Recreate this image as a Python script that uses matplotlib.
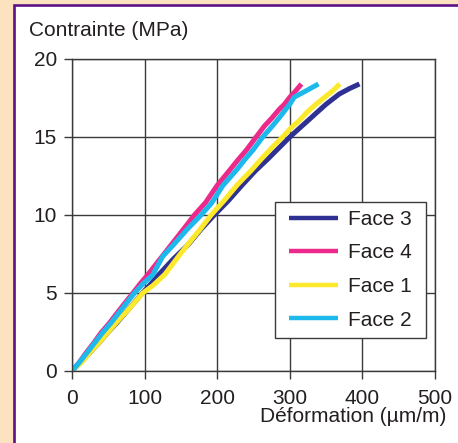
import matplotlib.pyplot as plt
from matplotlib.patches import Rectangle

plt.rcParams["font.family"] = ["Liberation Sans", "DejaVu Sans"]

# Courbes contrainte / deformation
face3_x = [0, 12, 25, 38, 49, 62, 75, 97, 108, 120, 140, 160, 178, 196, 215, 235, 253, 270, 285, 300, 313, 325, 338, 350, 368, 382, 396]
face3_y = [0, 0.55, 1.2, 1.85, 2.45, 3.1, 3.8, 5.0, 5.55, 6.2, 7.2, 8.1, 9.1, 10.0, 10.9, 11.95, 12.85, 13.6, 14.3, 15.0, 15.55, 16.05, 16.6, 17.1, 17.75, 18.1, 18.4]
face4_x = [0, 10, 20, 30, 40, 52, 66, 84, 94, 104, 120, 136, 152, 168.6, 184, 200, 216.8, 228, 240, 253.6, 265, 275, 285, 292.6, 300, 308, 316]
face4_y = [0, 0.55, 1.2, 1.8, 2.45, 3.1, 3.95, 5.0, 5.6, 6.15, 7.1, 8.05, 9.0, 10.0, 10.8, 11.9, 12.85, 13.5, 14.15, 15.0, 15.7, 16.2, 16.75, 17.1, 17.55, 17.95, 18.4]
face1_x = [0, 14, 26, 38, 49, 62, 78, 97.5, 112, 128, 150, 162, 176, 191.6, 210, 228, 246.7, 262, 276, 290, 302, 313, 324, 336, 348, 360, 369]
face1_y = [0, 0.6, 1.25, 1.85, 2.45, 3.15, 3.95, 5.0, 5.5, 6.2, 7.55, 8.25, 9.05, 10.0, 10.95, 11.95, 12.85, 13.65, 14.35, 15.0, 15.6, 16.05, 16.6, 17.1, 17.55, 18.0, 18.4]
face2_x = [0, 11, 22, 32, 42, 54, 70, 86, 98, 111, 125, 140, 158, 177.8, 192, 208, 226, 238, 249, 262.7, 275, 285.7, 294, 300, 306, 322, 339.5]
face2_y = [0, 0.6, 1.25, 1.85, 2.45, 3.1, 4.05, 5.0, 5.6, 6.15, 7.35, 8.1, 9.05, 10.0, 10.75, 11.9, 12.85, 13.55, 14.15, 15.0, 15.65, 16.25, 16.75, 17.1, 17.55, 17.95, 18.4]

x_ticks = [0, 100, 200, 300, 400, 500]
y_ticks = [0, 5, 10, 15, 20]

fig = plt.figure(figsize=(4.58, 4.43), dpi=100, facecolor="#fde2bf")

# cadre blanc a bord violet
fig.patches.append(Rectangle((14.5 / 458, -0.1), 1.2, 1.1 - 5.5 / 443,
                             transform=fig.transFigure, facecolor="white",
                             edgecolor="#5c1287", linewidth=1.9, zorder=-5))

ax = fig.add_axes([72 / 458, 1 - 371 / 443, 363 / 458, 312 / 443])
ax.set_facecolor("white")

ax.plot(face3_x, face3_y, color="#2e3192", lw=3.6, label="Face 3", solid_capstyle="butt")
ax.plot(face4_x, face4_y, color="#ec2a8c", lw=3.6, label="Face 4", solid_capstyle="butt")
ax.plot(face1_x, face1_y, color="#fde92c", lw=3.6, label="Face 1", solid_capstyle="butt")
ax.plot(face2_x, face2_y, color="#1db8ec", lw=3.6, label="Face 2", solid_capstyle="butt")

ax.set_xlim(0, 500)
ax.set_ylim(0, 20)
ax.set_xticks(x_ticks)
ax.set_yticks(y_ticks)
ax.grid(True, color="#3a3a3a", lw=1.0)
ax.set_axisbelow(True)
for s in ax.spines.values():
    s.set_color("#3a3a3a")
    s.set_linewidth(1.0)
ax.tick_params(length=5.8, width=1.0, color="#3a3a3a", labelsize=15,
               labelcolor="#231f20", pad=5)
ax.tick_params(axis="x", pad=7.5)

# legende : cadre de 275 a 426 px en x, haut a 202 px
leg = ax.legend(loc="upper left", bbox_to_anchor=(203 / 363, 0.5417 - 0.1, 151 / 363, 0.1),
                mode="expand", borderaxespad=0,
                fontsize=15, handlelength=2.65, handletextpad=0.45, labelspacing=0.7,
                borderpad=0.38, fancybox=False, framealpha=1, edgecolor="#3a3a3a")
leg.get_frame().set_linewidth(1.0)
for line in leg.get_lines():
    line.set_linewidth(3.2)
    xd = list(line.get_xdata())
    line.set_xdata([xd[0] + 4.3, xd[-1]])
    line.set_ydata(list(line.get_ydata())[:1] * 2)
for t in leg.get_texts():
    t.set_color("#231f20")

fig.text(29 / 458, 1 - 36 / 443, "Contrainte (MPa)", fontsize=15, color="#231f20",
         ha="left", va="baseline")
fig.text(446 / 458, 1 - 422 / 443, "Déformation (µm/m)", fontsize=15, color="#231f20",
         ha="right", va="baseline")

fig.savefig("out.png", dpi=100, facecolor=fig.get_facecolor())
